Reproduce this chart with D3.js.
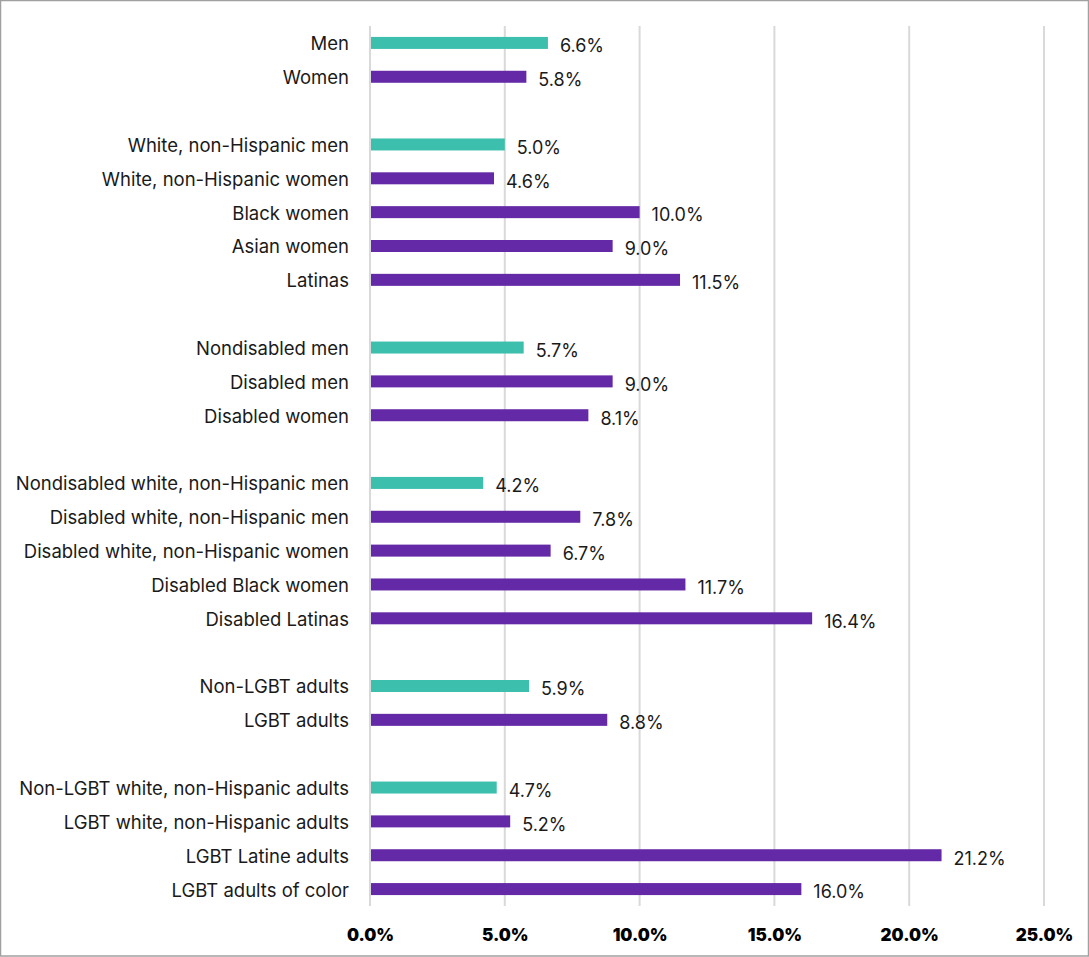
<!DOCTYPE html>
<html><head><meta charset="utf-8">
<script src="https://cdn.jsdelivr.net/npm/d3@7"></script>
<style>
body{margin:0;background:#fff;}
svg{display:block;font-family:Inter,"Noto Sans",sans-serif;}
</style></head><body>
<svg id="c" width="1089" height="957"></svg>
<script>
const categories = ["Men","Women","",
 "White, non-Hispanic men","White, non-Hispanic women","Black women","Asian women","Latinas","",
 "Nondisabled men","Disabled men","Disabled women","",
 "Nondisabled white, non-Hispanic men","Disabled white, non-Hispanic men","Disabled white, non-Hispanic women","Disabled Black women","Disabled Latinas","",
 "Non-LGBT adults","LGBT adults","",
 "Non-LGBT white, non-Hispanic adults","LGBT white, non-Hispanic adults","LGBT Latine adults","LGBT adults of color"];
const values = [6.6,5.8,null,5.0,4.6,10.0,9.0,11.5,null,5.7,9.0,8.1,null,4.2,7.8,6.7,11.7,16.4,null,5.9,8.8,null,4.7,5.2,21.2,16.0];
const groups = ["ref","cmp",null,"ref","cmp","cmp","cmp","cmp",null,"ref","cmp","cmp",null,"ref","cmp","cmp","cmp","cmp",null,"ref","cmp",null,"ref","cmp","cmp","cmp"];
const tickValues = [0,5,10,15,20,25];

const svg = d3.select("#c");
const W=1089,H=957;
svg.append("rect").attr("x",0.5).attr("y",0.5).attr("width",W-1).attr("height",H-1.5)
  .attr("fill","#fff").attr("stroke","#a0a0a0").attr("stroke-width",1.5);

const x = d3.scaleLinear().domain([0,25]).range([370,1044]);
const y = d3.scaleBand().domain(d3.range(categories.length)).range([26,906]).paddingInner(0);
const color = {ref:"#3dbfae", cmp:"#6329a6"};

svg.append("g").selectAll("line").data(tickValues).join("line")
  .attr("x1",d=>x(d)).attr("x2",d=>x(d)).attr("y1",26).attr("y2",906)
  .attr("stroke","#d9d9d9").attr("stroke-width",2);

const xAxis = d3.axisBottom(x).tickValues(tickValues).tickFormat(d=>d.toFixed(1)+"%").tickSize(0).tickPadding(0);
const ax = svg.append("g").attr("transform","translate(0,926)").call(xAxis);
ax.select(".domain").remove();
ax.selectAll("text").attr("font-size",17).attr("font-weight",900).attr("fill","#000")
  .attr("font-family","Inter, sans-serif").attr("dy","0.9em");

const idx = d3.range(categories.length).filter(i=>values[i]!==null);
const bh = 12;
svg.append("g").selectAll("rect").data(idx).join("rect")
  .attr("x",x(0)+1).attr("y",i=>y(i)+y.bandwidth()/2-bh/2)
  .attr("width",i=>x(values[i])-x(0)-1).attr("height",bh)
  .attr("fill",i=>color[groups[i]]);

svg.append("g").selectAll("text").data(idx).join("text")
  .attr("x",349).attr("y",i=>y(i)+y.bandwidth()/2+1).attr("dy","0.35em")
  .attr("text-anchor","end").attr("font-size",18.5).attr("fill","#1a1a1a")
  .text(i=>categories[i]);

svg.append("g").selectAll("text").data(idx).join("text")
  .attr("x",i=>x(values[i])+12).attr("y",i=>y(i)+y.bandwidth()/2+3).attr("dy","0.35em")
  .attr("font-size",18).attr("fill","#1a1a1a")
  .text(i=>values[i].toFixed(1)+"%");
</script></body></html>
